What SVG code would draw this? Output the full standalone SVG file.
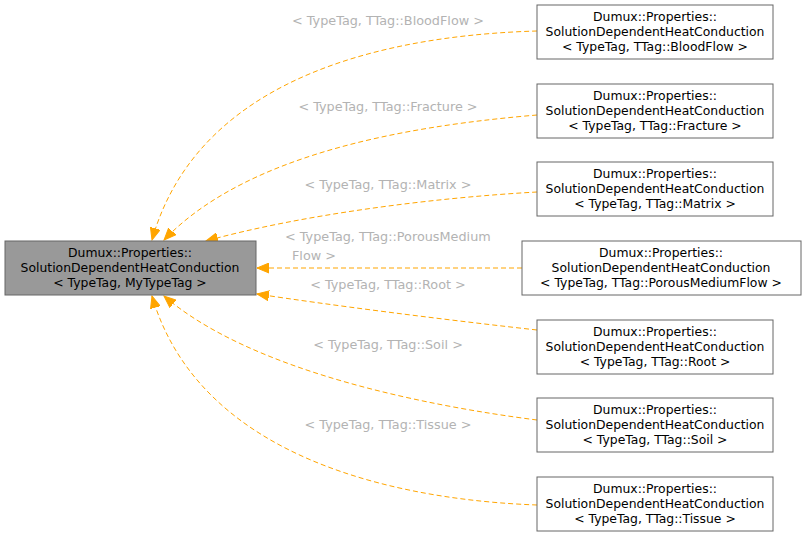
<svg xmlns="http://www.w3.org/2000/svg" width="807" height="537" viewBox="0 0 807 537">
<style>
text{font-family:"DejaVu Sans",sans-serif;font-size:12.4px}
.n rect{fill:#fff;stroke:#666}
.n text{fill:#000;text-anchor:middle}
.e path{fill:none;stroke:#FFA500;stroke-dasharray:5,3}
.l{fill:#b3b3b3;text-anchor:middle;font-size:12.8px}
</style>
<defs><marker id="a" markerWidth="13" markerHeight="11" refX="12" refY="5.5" orient="auto" markerUnits="userSpaceOnUse"><path d="M0,0.5 L12,5.5 L0,10.5 z" fill="#FFA500" stroke="#FFA500"/></marker></defs>
<rect width="807" height="537" fill="#fff"/>
<g id="edges" class="e">
<path d="M537,31 C400,35 200,70 152,240" marker-end="url(#a)"/>
<path d="M537,115 C420,125 250,150 164,240" marker-end="url(#a)"/>
<path d="M537,192 C430,198 300,215 206,241" marker-end="url(#a)"/>
<path d="M522,268 L257,268" marker-end="url(#a)"/>
<path d="M537,330 C430,318 330,305 257,294" marker-end="url(#a)"/>
<path d="M537,420 C420,405 250,370 164,296" marker-end="url(#a)"/>
<path d="M537,505 C400,500 200,460 152,296" marker-end="url(#a)"/>
</g>
<g id="labels">
<text class="l" x="388" y="25">&lt; TypeTag, TTag::BloodFlow &gt;</text>
<text class="l" x="388" y="111">&lt; TypeTag, TTag::Fracture &gt;</text>
<text class="l" x="388" y="189">&lt; TypeTag, TTag::Matrix &gt;</text>
<text class="l" x="285" y="241" style="text-anchor:start">&lt; TypeTag, TTag::PorousMedium</text>
<text class="l" x="292" y="260" style="text-anchor:start">Flow &gt;</text>
<text class="l" x="388" y="289">&lt; TypeTag, TTag::Root &gt;</text>
<text class="l" x="388" y="349">&lt; TypeTag, TTag::Soil &gt;</text>
<text class="l" x="388" y="429">&lt; TypeTag, TTag::Tissue &gt;</text>
</g>
<g id="main" class="n"><rect x="5" y="241" width="251" height="54" style="fill:#999"/>
<text x="130" y="257">Dumux::Properties::</text><text x="130" y="272">SolutionDependentHeatConduction</text><text x="130" y="287">&lt; TypeTag, MyTypeTag &gt;</text></g>
<g id="n1" class="n"><rect x="537" y="5" width="236" height="54"/><text x="655" y="21">Dumux::Properties::</text><text x="655" y="36">SolutionDependentHeatConduction</text><text x="655" y="51">&lt; TypeTag, TTag::BloodFlow &gt;</text></g>
<g id="n2" class="n"><rect x="537" y="84" width="236" height="54"/><text x="655" y="100">Dumux::Properties::</text><text x="655" y="115">SolutionDependentHeatConduction</text><text x="655" y="130">&lt; TypeTag, TTag::Fracture &gt;</text></g>
<g id="n3" class="n"><rect x="537" y="162" width="236" height="54"/><text x="655" y="178">Dumux::Properties::</text><text x="655" y="193">SolutionDependentHeatConduction</text><text x="655" y="208">&lt; TypeTag, TTag::Matrix &gt;</text></g>
<g id="n4" class="n"><rect x="522" y="241" width="279" height="54"/><text x="661" y="257">Dumux::Properties::</text><text x="661" y="272">SolutionDependentHeatConduction</text><text x="661" y="287">&lt; TypeTag, TTag::PorousMediumFlow &gt;</text></g>
<g id="n5" class="n"><rect x="537" y="320" width="236" height="54"/><text x="655" y="336">Dumux::Properties::</text><text x="655" y="351">SolutionDependentHeatConduction</text><text x="655" y="366">&lt; TypeTag, TTag::Root &gt;</text></g>
<g id="n6" class="n"><rect x="537" y="398" width="236" height="54"/><text x="655" y="414">Dumux::Properties::</text><text x="655" y="429">SolutionDependentHeatConduction</text><text x="655" y="444">&lt; TypeTag, TTag::Soil &gt;</text></g>
<g id="n7" class="n"><rect x="537" y="477" width="236" height="54"/><text x="655" y="493">Dumux::Properties::</text><text x="655" y="508">SolutionDependentHeatConduction</text><text x="655" y="523">&lt; TypeTag, TTag::Tissue &gt;</text></g>
</svg>
